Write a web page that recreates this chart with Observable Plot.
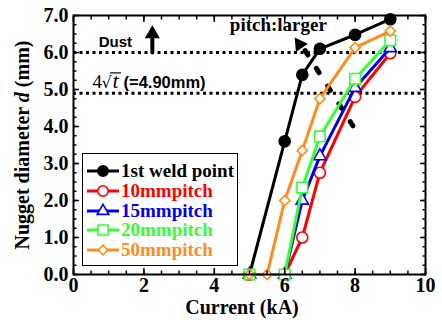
<!DOCTYPE html>
<html><head><meta charset="utf-8">
<script src="https://cdn.jsdelivr.net/npm/d3@7"></script>
<script src="https://cdn.jsdelivr.net/npm/@observablehq/plot@0.6"></script>
<style>
body{margin:0;background:#fff;}
#wrap{position:relative;width:442px;height:320px;}
#legend{position:absolute;left:82px;top:153px;width:154px;height:111px;border:1.5px solid #000;background:#fff;}
.row{position:absolute;left:0;height:20px;display:flex;align-items:center;font-family:"Liberation Serif",serif;font-weight:bold;font-size:19px;white-space:nowrap;}
.row svg{margin-left:4px;margin-right:2px;}
</style></head><body><div id="wrap"></div>
<script>
// ---- data ----
const seriesNames = ["1st weld point", "10mmpitch", "15mmpitch", "20mmpitch", "50mmpitch"];
const seriesColors = ["#000000", "#ff0000", "#0000ee", "#33ff33", "#ff8c1a"];
const seriesSymbols = ["circle", "circle", "triangle", "square", "diamond2"];
const seriesFills = ["#000000", "#ffffff", "#ffffff", "#ffffff", "#ffffff"];

const currentWeld = [5.0, 6.0, 6.5, 7.0, 8.0, 9.0];
const diamWeld    = [0.0, 3.6, 5.4, 6.1, 6.48, 6.9];
const current10   = [5.0, 6.0, 6.5, 7.0, 8.0, 9.0];
const diam10      = [0.0, 0.0, 1.0, 2.75, 4.8, 5.98];
const current15   = [5.0, 6.0, 6.5, 7.0, 8.0, 9.0];
const diam15      = [0.0, 0.0, 2.0, 3.2, 5.05, 6.12];
const current20   = [5.0, 6.0, 6.5, 7.0, 8.0, 9.0];
const diam20      = [0.0, 0.0, 2.35, 3.73, 5.29, 6.33];
const current50   = [5.0, 5.5, 6.0, 6.5, 7.0, 8.0, 9.0];
const diam50      = [0.0, 0.0, 2.0, 3.35, 4.75, 6.13, 6.58];

const refLines = [6.0, 4.9];
const xMajor = [0, 2, 4, 6, 8, 10];
const xMinor = d3.range(0, 10.01, 0.5);
const yMajor = [0, 1, 2, 3, 4, 5, 6, 7];
const yMinor = d3.range(0, 7.01, 0.25);

// pitch:larger dotted trend + arrow
const pitchX = [6.58, 7.95];
const pitchY = [6.05, 4.0];
const pitchHead = {x: 6.42, y: 6.22};
// Dust arrow
const dustShaftX = 2.24, dustShaftY = [6.0, 6.42];
const dustHead = {x: 2.24, y: 6.5};

const sansLabels = [{text: "Dust", x: 1.19, y: 6.16}];
const serifLabels = [{text: "pitch:larger", x: 5.82, y: 6.57}];
const rootLabel = [{x: 0.54, y: 5.03, a: "4", b: "\u221A", c: "t", d: "(=4.90mm)"}];
const xTitle = "Current (kA)";
const yTitleParts = ["Nugget diameter ", "d", " (mm)"];

// ---- build ----
const xs = [currentWeld, current10, current15, current20, current50];
const ys = [diamWeld, diam10, diam15, diam20, diam50];
const series = seriesNames.map((name, i) => xs[i].map((x, j) => ({name, x, y: ys[i][j]})));
const radii = {circle: 5.5, triangle: 4.6, square: 6, diamond2: 4.6};

const common = {x: "x", y: "y", fill: "#000", lineAnchor: "bottom", textAnchor: "start"};
const marks = [
  Plot.ruleY(refLines, {stroke: "#000", strokeWidth: 3, strokeDasharray: "3,3.5"}),
  Plot.line(pitchX.map((x, i) => ({x, y: pitchY[i]})), {x: "x", y: "y", stroke: "#000", strokeWidth: 5, strokeDasharray: "5,16"}),
  Plot.dot([pitchHead], {x: "x", y: "y", symbol: "triangle", r: 5.4, fill: "#000", stroke: "none", rotate: -35}),
  Plot.line([{x: dustShaftX, y: dustShaftY[0]}, {x: dustShaftX, y: dustShaftY[1]}], {x: "x", y: "y", stroke: "#000", strokeWidth: 4}),
  Plot.dot([dustHead], {x: "x", y: "y", symbol: "triangle", r: 5.6, fill: "#000", stroke: "none"}),
  Plot.text(sansLabels, {x: "x", y: "y", text: "text", fill: "#000", fontWeight: "bold", lineAnchor: "bottom", textAnchor: "middle", fontFamily: "Liberation Sans", fontSize: 15}),
  Plot.text(serifLabels, {x: "x", y: "y", text: "text", fill: "#000", fontWeight: "bold", lineAnchor: "bottom", textAnchor: "middle", fontFamily: "Liberation Serif", fontSize: 19}),
  Plot.text(rootLabel, {...common, text: "a", fontFamily: "Liberation Serif", fontSize: 19}),
  Plot.text(rootLabel, {...common, text: "b", dx: 9, fontFamily: "DejaVu Sans", fontSize: 16}),
  Plot.text(rootLabel, {...common, text: "c", dx: 20, fontFamily: "Liberation Serif", fontStyle: "italic", fontSize: 22}),
  Plot.text(rootLabel, {...common, text: "d", dx: 31, fontFamily: "Liberation Sans", fontWeight: "bold", fontSize: 16.5})
];
series.forEach((data, i) => {
  marks.push(Plot.line(data, {x: "x", y: "y", stroke: seriesColors[i], strokeWidth: 3}));
  marks.push(Plot.dot(data, {x: "x", y: "y", symbol: seriesSymbols[i], r: radii[seriesSymbols[i]], stroke: seriesColors[i], fill: seriesFills[i], strokeWidth: 1.6}));
});
marks.push(
  Plot.frame({stroke: "#000", strokeWidth: 2}),
  Plot.axisX({anchor: "bottom", ticks: xMajor, tickSize: -6, fill: "none", label: null, strokeWidth: 1.5}),
  Plot.axisX({anchor: "bottom", ticks: xMinor, tickSize: -3.5, fill: "none", label: null, strokeWidth: 1.5}),
  Plot.axisX({anchor: "top", ticks: xMajor, tickSize: -6, fill: "none", label: null, strokeWidth: 1.5}),
  Plot.axisX({anchor: "top", ticks: xMinor, tickSize: -3.5, fill: "none", label: null, strokeWidth: 1.5}),
  Plot.axisY({anchor: "left", ticks: yMajor, tickSize: -6, fill: "none", label: null, strokeWidth: 1.5}),
  Plot.axisY({anchor: "left", ticks: yMinor, tickSize: -3.5, fill: "none", label: null, strokeWidth: 1.5}),
  Plot.axisY({anchor: "right", ticks: yMajor, tickSize: -6, fill: "none", label: null, strokeWidth: 1.5}),
  Plot.axisY({anchor: "right", ticks: yMinor, tickSize: -3.5, fill: "none", label: null, strokeWidth: 1.5}),
  Plot.axisX({anchor: "bottom", ticks: xMajor, tickSize: 0, tickPadding: 3, label: null, fontSize: 20, fontWeight: "bold", fontFamily: "Liberation Serif", fill: "#000"}),
  Plot.axisY({anchor: "left", ticks: yMajor, tickSize: 0, tickPadding: 5, tickFormat: d => d.toFixed(1), label: null, fontSize: 20, fontWeight: "bold", fontFamily: "Liberation Serif", fill: "#000"})
);

const plot = Plot.plot({
  width: 442, height: 320,
  marginLeft: 73, marginRight: 17, marginTop: 15, marginBottom: 46,
  x: {domain: [0, 10]},
  y: {domain: [0, 7]},
  style: {background: "#fff", color: "#000", overflow: "visible"},
  marks
});
const wrap = document.getElementById("wrap");
wrap.appendChild(plot);

const sx = plot.scale("x"), sy = plot.scale("y");
const svg = d3.select(plot);

// vinculum of the radical over t
const x0 = sx.apply(rootLabel[0].x), y0 = sy.apply(rootLabel[0].y);
svg.append("line").attr("x1", x0 + 18).attr("x2", x0 + 29).attr("y1", y0 - 15).attr("y2", y0 - 15)
  .attr("stroke", "#000").attr("stroke-width", 1.2);

// axis titles
svg.append("text")
  .attr("x", 242).attr("y", 314).attr("text-anchor", "middle")
  .attr("font-family", "Liberation Serif").attr("font-weight", "bold").attr("font-size", 20).attr("fill", "#000")
  .text(xTitle);
const yt = svg.append("text")
  .attr("transform", "translate(29,145) rotate(-90)").attr("text-anchor", "middle")
  .attr("font-family", "Liberation Serif").attr("font-weight", "bold").attr("font-size", 20).attr("fill", "#000");
yt.append("tspan").text(yTitleParts[0]);
yt.append("tspan").attr("font-style", "italic").text(yTitleParts[1]);
yt.append("tspan").text(yTitleParts[2]);

// legend
const symbolTypes = {circle: d3.symbolCircle, triangle: d3.symbolTriangle, square: d3.symbolSquare, diamond2: d3.symbolDiamond2};
const legend = d3.select(wrap).append("div").attr("id", "legend");
seriesNames.forEach((name, i) => {
  const row = legend.append("div").attr("class", "row").style("top", (7 + i * 19.8) + "px");
  const s = row.append("svg").attr("width", 32).attr("height", 16);
  s.append("line").attr("x1", 0).attr("x2", 32).attr("y1", 8).attr("y2", 8).attr("stroke", seriesColors[i]).attr("stroke-width", 3);
  const r = radii[seriesSymbols[i]] - 0.3;
  s.append("path").attr("transform", "translate(16,8)")
    .attr("d", d3.symbol(symbolTypes[seriesSymbols[i]], Math.PI * r * r)())
    .attr("fill", seriesFills[i]).attr("stroke", seriesColors[i]).attr("stroke-width", 1.6);
  row.append("span").style("color", seriesColors[i]).text(name);
});
</script></body></html>
